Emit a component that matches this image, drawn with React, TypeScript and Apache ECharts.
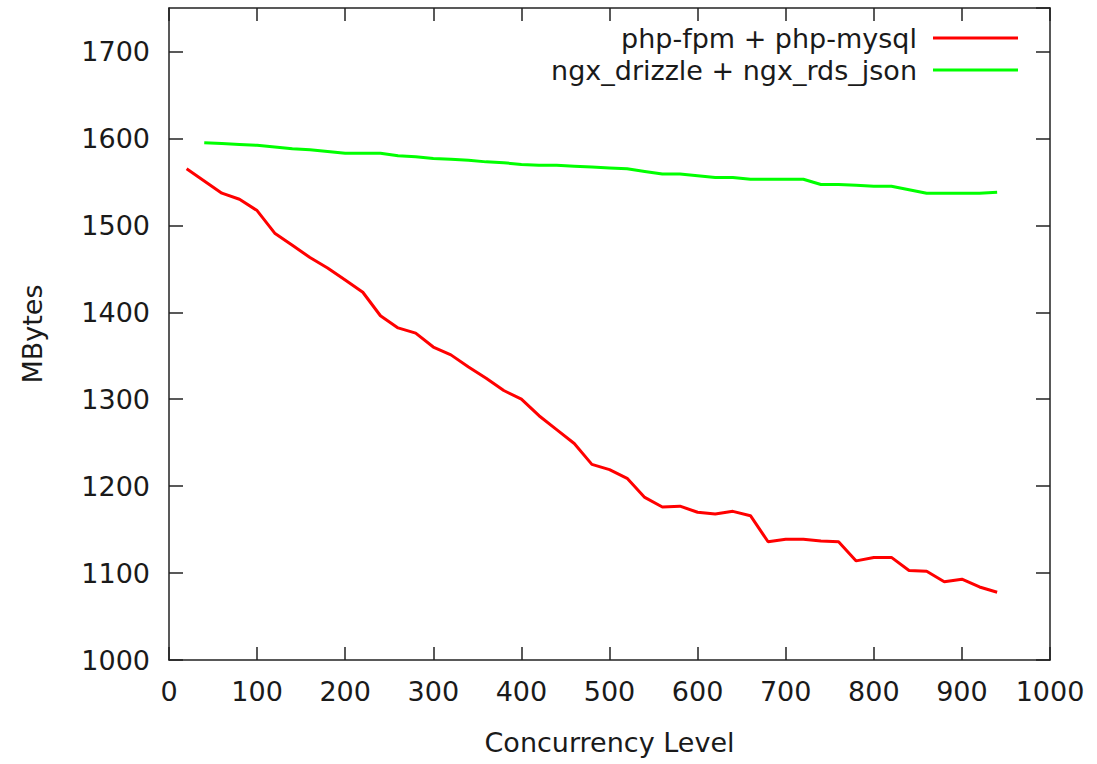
import React, { useEffect, useRef } from "react";
import * as echarts from "echarts";

const concurrencyPhp = [20, 40, 60, 80, 100, 120, 140, 160, 180, 200, 220, 240, 260, 280, 300, 320, 340, 360, 380, 400, 420, 440, 460, 480, 500, 520, 540, 560, 580, 600, 620, 640, 660, 680, 700, 720, 740, 760, 780, 800, 820, 840, 860, 880, 900, 920, 940];
const phpFpmMysql = [1565, 1551, 1537, 1530, 1517, 1491, 1477, 1463, 1451, 1437, 1423, 1396, 1382, 1376, 1360, 1351, 1337, 1324, 1310, 1300, 1281, 1265, 1249, 1225, 1219, 1209, 1187, 1176, 1177, 1170, 1168, 1171, 1166, 1136, 1139, 1139, 1137, 1136, 1114, 1118, 1118, 1103, 1102, 1090, 1093, 1084, 1078];

const concurrencyNgx = [40, 60, 80, 100, 120, 140, 160, 180, 200, 220, 240, 260, 280, 300, 320, 340, 360, 380, 400, 420, 440, 460, 480, 500, 520, 540, 560, 580, 600, 620, 640, 660, 680, 700, 720, 740, 760, 780, 800, 820, 840, 860, 880, 900, 920, 940];
const ngxDrizzleRds = [1595, 1594, 1593, 1592, 1590, 1588, 1587, 1585, 1583, 1583, 1583, 1580, 1579, 1577, 1576, 1575, 1573, 1572, 1570, 1569, 1569, 1568, 1567, 1566, 1565, 1562, 1559, 1559, 1557, 1555, 1555, 1553, 1553, 1553, 1553, 1547, 1547, 1546, 1545, 1545, 1541, 1537, 1537, 1537, 1537, 1538];

const seriesNames = ["php-fpm + php-mysql", "ngx_drizzle + ngx_rds_json"];
const seriesColors = ["#ff0000", "#00ff00"];

const FONT = "DejaVu Sans";
const FONT_SIZE = 27;
const TEXT_COLOR = "#1a1a1a";
const AXIS_COLOR = "#222222";

export default function App() {
  const ref = useRef<HTMLDivElement>(null);

  useEffect(() => {
    if (!ref.current) return;
    const chart = echarts.init(ref.current, undefined, { renderer: "svg" });

    const axisLine = { show: true, onZero: false, lineStyle: { color: AXIS_COLOR, width: 1.5 } };
    const labelStyle = { color: TEXT_COLOR, fontSize: FONT_SIZE, fontFamily: FONT };
    const tickX = { show: true, inside: true, length: 13, lineStyle: { color: AXIS_COLOR, width: 1.5 } };
    const tickY = { show: true, inside: true, length: 14, lineStyle: { color: AXIS_COLOR, width: 1.5 } };

    const xBase = {
      type: "value" as const,
      min: 0,
      max: 1000,
      interval: 100,
      splitLine: { show: false },
      axisLine,
    };
    const yBase = {
      type: "value" as const,
      min: 1000,
      max: 1750,
      interval: 100,
      splitLine: { show: false },
      axisLine,
    };

    const option: any = {
      animation: false,
      backgroundColor: "#ffffff",
      textStyle: { fontFamily: FONT },
      grid: { left: 169, right: 47, top: 8, bottom: 104, containLabel: false },
      xAxis: [
        {
          ...xBase,
          position: "bottom",
          name: "Concurrency Level",
          nameLocation: "middle",
          nameGap: 69,
          nameTextStyle: labelStyle,
          axisTick: tickX,
          axisLabel: { ...labelStyle, margin: 18, formatter: (v: number) => String(v) },
        },
        {
          ...xBase,
          position: "top",
          axisTick: tickX,
          axisLabel: { show: false },
        },
      ],
      yAxis: [
        {
          ...yBase,
          position: "left",
          name: "MBytes",
          nameLocation: "middle",
          nameGap: 123,
          nameRotate: 90,
          nameTextStyle: labelStyle,
          axisTick: tickY,
          axisLabel: {
            ...labelStyle,
            margin: 19,
            showMaxLabel: false,
            formatter: (v: number) => (v % 100 === 0 ? String(v) : ""),
          },
        },
        {
          ...yBase,
          position: "right",
          axisTick: tickY,
          axisLabel: { show: false },
        },
      ],
      series: [
        {
          name: seriesNames[0],
          type: "line",
          xAxisIndex: 0,
          yAxisIndex: 0,
          data: concurrencyPhp.map((c, i) => [c, phpFpmMysql[i]]),
          showSymbol: false,
          symbol: "none",
          lineStyle: { color: seriesColors[0], width: 3 },
          itemStyle: { color: seriesColors[0] },
        },
        {
          name: seriesNames[1],
          type: "line",
          xAxisIndex: 0,
          yAxisIndex: 0,
          data: concurrencyNgx.map((c, i) => [c, ngxDrizzleRds[i]]),
          showSymbol: false,
          symbol: "none",
          lineStyle: { color: seriesColors[1], width: 3 },
          itemStyle: { color: seriesColors[1] },
        },
      ],
      graphic: seriesNames.flatMap((name, i) => {
        const y = 38 + i * 32;
        return [
          {
            type: "text",
            x: 917,
            y,
            style: {
              text: name,
              fill: TEXT_COLOR,
              font: `${FONT_SIZE}px "${FONT}"`,
              textAlign: "right",
              textVerticalAlign: "middle",
            },
          },
          {
            type: "line",
            shape: { x1: 933, y1: y, x2: 1018, y2: y },
            style: { stroke: seriesColors[i], lineWidth: 3 },
          },
        ];
      }),
    };

    chart.setOption(option);
    return () => chart.dispose();
  }, []);

  return (
    <div
      ref={ref}
      style={{ position: "absolute", left: 0, top: 0, width: 1097, height: 764, background: "#fff" }}
    />
  );
}
